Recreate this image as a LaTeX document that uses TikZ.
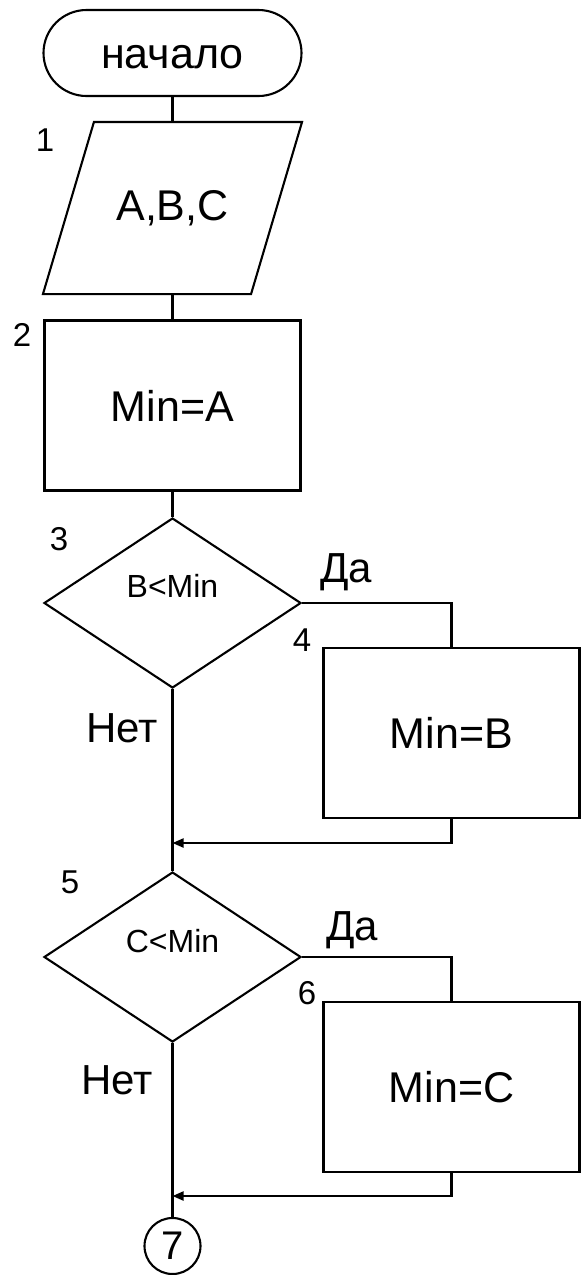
\documentclass[tikz,border=0pt]{standalone}
\usepackage{fontspec}
\setmainfont{Liberation Sans}
\usetikzlibrary{shapes.geometric,shapes.misc,arrows.meta,calc}
\begin{document}
\begin{tikzpicture}[x=1pt,y=-1pt,line width=2.1pt,
  base/.style={draw,line width=2.1pt,inner sep=0pt},
  big/.style={font=\fontsize{43}{50}\selectfont},
  term/.style={base,rounded rectangle,minimum width=258pt,minimum height=86pt},
  proc/.style={base,big,rectangle,minimum width=256pt,minimum height=170pt},
  iobox/.style={big,rectangle,inner sep=0pt,minimum width=257pt,minimum height=170pt},
  decision/.style={base,diamond,minimum width=257pt,minimum height=170pt},
  cond/.style={font=\fontsize{32}{38}\selectfont},
  num/.style={font=\fontsize{33}{40}\selectfont},
  answer/.style={font=\fontsize{42}{50}\selectfont},
  conn/.style={base,circle,minimum size=56pt,font=\fontsize{40}{46}\selectfont},
  merge/.style={-{Triangle[length=11pt,width=9pt]}}
]
\useasboundingbox (0,0) rectangle (581,1275);

% blocks of the main column
\node[term] (start) at (172.5,53) {};
\node[big] (tstart) at (172.5,57) {начало};
\node[iobox] (io) at (172.5,208) {A,B,C};
\draw ($(io.north west)+(51,0)$) -- (io.north east)
  -- ($(io.south east)+(-51,0)$) -- (io.south west) -- cycle;
\node[proc] (b2) at (172.5,405.5) {Min=A};
\node[decision] (d3) at (172.5,603) {};
\node[cond] (t3) at (172.5,586) {B<Min};
\node[proc] (b4) at (451.5,733) {Min=B};
\node[decision] (d5) at (172.5,957) {};
\node[cond] (t5) at (172.5,941) {C<Min};
\node[proc] (b6) at (451.5,1087) {Min=C};
\node[conn] (c7) at (172.5,1246) {7};

% block numbers
\node[num] (n1) at (45,140) {1};
\node[num] (n2) at (22,335) {2};
\node[num] (n3) at (59,539) {3};
\node[num] (n4) at (302,640) {4};
\node[num] (n5) at (70,882) {5};
\node[num] (n6) at (307,993) {6};

% branch labels
\node[answer] (y3) at (346,572) {Да};
\node[answer] (n3a) at (122,728) {Нет};
\node[answer] (y5) at (352,930) {Да};
\node[answer] (n5a) at (117,1080) {Нет};

% junction points on the main line
\coordinate (m1) at (172.5,843);
\coordinate (m2) at (172.5,1196);

% connectors
\draw (start) -- (io);
\draw (io) -- (b2);
\draw (b2) -- (d3);
\draw (d3.east) -| (b4.north);
\draw (d3.south) -- (d5.north);
\draw[merge] (b4.south) |- (m1);
\draw (d5.east) -| (b6.north);
\draw (d5.south) -- (c7.north);
\draw[merge] (b6.south) |- (m2);
\end{tikzpicture}
\end{document}
